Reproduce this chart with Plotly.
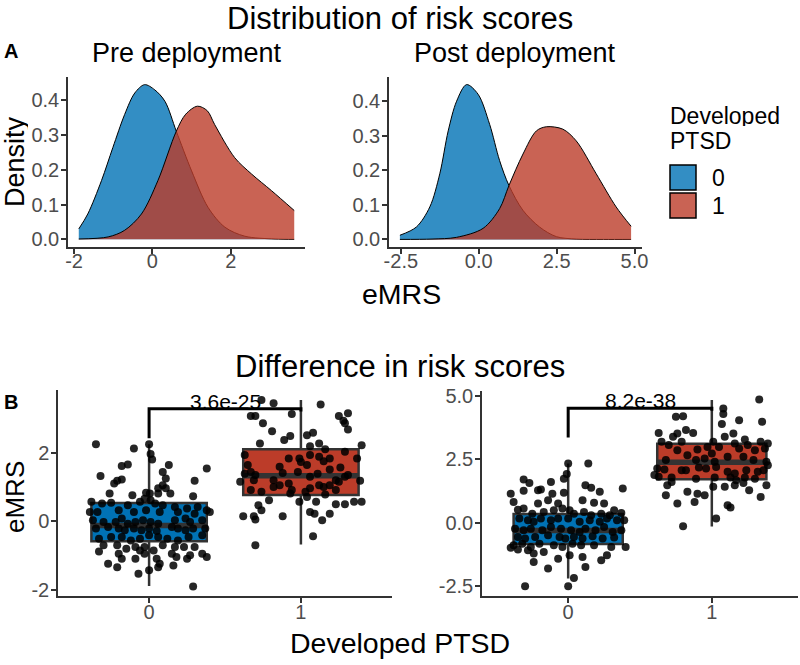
import plotly.graph_objects as go

FONT = "Liberation Sans, Arial, sans-serif"
TICKC = "#4D4D4D"
AXC = "#333333"
BLUE, RED = "#0072B5", "#BC3C29"
BLUE_A, RED_A = "rgba(0,114,181,0.8)", "rgba(188,60,41,0.8)"

groups = ["0", "1"]

# ---------- density curves ----------
pre_x0 = [-1.88, -1.65, -1.30, -1.01, -0.71, -0.45, -0.20, 0.06, 0.32, 0.61, 1.00, 1.42, 1.85, 2.36, 3.13, 3.62]
pre_d0 = [0.030, 0.073, 0.169, 0.264, 0.359, 0.421, 0.445, 0.430, 0.397, 0.311, 0.197, 0.092, 0.035, 0.009, 0.001, 0.0]
pre_x1 = [-1.88, -1.13, -0.71, -0.28, 0.14, 0.61, 0.85, 1.15, 1.40, 1.59, 2.10, 2.53, 3.04, 3.62]
pre_d1 = [0.001, 0.007, 0.026, 0.073, 0.169, 0.311, 0.360, 0.383, 0.370, 0.330, 0.235, 0.188, 0.140, 0.083]

post_x0 = [-2.53, -2.00, -1.57, -1.25, -0.98, -0.71, -0.39, -0.02, 0.35, 0.67, 0.97, 1.42, 1.95, 2.49, 3.13, 4.00, 4.89]
post_d0 = [0.012, 0.036, 0.094, 0.190, 0.314, 0.400, 0.448, 0.420, 0.333, 0.228, 0.156, 0.084, 0.036, 0.008, 0.001, 0.0, 0.0]
post_x1 = [-2.53, -1.50, -0.71, 0.14, 0.67, 0.97, 1.42, 1.85, 2.17, 2.70, 3.13, 3.77, 4.41, 4.89]
post_d1 = [0.0, 0.001, 0.006, 0.032, 0.089, 0.156, 0.247, 0.314, 0.326, 0.319, 0.285, 0.190, 0.094, 0.038]

# ---------- box statistics ----------
pre_q1 = [-0.58, 0.77]; pre_med = [-0.12, 1.33]; pre_q3 = [0.53, 2.10]
pre_lo = [-1.89, -0.68]; pre_hi = [2.25, 3.54]
post_q1 = [-0.84, 1.71]; post_med = [-0.31, 2.38]; post_q3 = [0.34, 3.10]
post_lo = [-2.20, -0.15]; post_hi = [2.33, 4.83]

# ---------- jittered points ----------
pre_v0 = [2.25, 2.12, 2.25, 1.96, 1.80, 1.66, 1.61, 1.64, 1.44, 1.54,
          1.32, 1.22, 1.18, 1.10, 1.25, 1.05, 0.96, 0.96, 1.18, 0.81,
          0.76, 0.83, 0.81, 0.81, 0.81, 0.73, 0.57, 0.52, 0.54, 0.47,
          0.57, 0.66, 0.61, 0.52, 0.47, 0.42, 0.37, 0.42, 0.32, 0.27,
          0.27, 0.32, 0.27, 0.32, 0.27, 0.27, 0.22, 0.27, 0.03, -0.02,
          -0.02, 0.08, -0.07, -0.02, 0.03, -0.02, -0.07, 0.03, 0.08, -0.02,
          0.03, -0.21, -0.17, -0.21, -0.26, -0.21, -0.26, -0.21, -0.28, -0.17,
          -0.21, -0.26, -0.21, -0.21, -0.51, -0.46, -0.46, -0.56, -0.51, -0.41,
          -0.46, -0.51, -0.56, -0.46, -0.41, -0.70, -0.70, -0.80, -0.75, -0.75,
          -0.85, -0.70, -0.75, -0.75, -0.75, -0.88, -0.95, -0.85, -0.95, -0.95,
          -0.99, -0.95, -1.09, -1.09, -1.09, -1.04, -1.09, -1.04, -1.24, -1.34,
          -1.24, -1.29, -1.34, -1.53, -1.43, -1.90]
pre_j0 = [-0.35, -0.10, 0.00, 0.01, 0.02, -0.14, -0.18, 0.13, 0.09, 0.38,
          -0.32, -0.18, -0.21, -0.23, 0.11, 0.09, 0.06, 0.11, 0.30, -0.26,
          -0.11, -0.02, 0.005, 0.06, 0.14, 0.29, -0.38, -0.31, -0.25, -0.14,
          -0.06, -0.03, 0.01, 0.04, 0.09, 0.17, 0.25, 0.32, 0.38, -0.39,
          -0.34, -0.20, -0.10, -0.02, 0.07, 0.19, 0.30, 0.40, -0.37, -0.30,
          -0.22, -0.18, -0.14, -0.09, -0.04, 0.01, 0.06, 0.17, 0.24, 0.27,
          0.35, -0.35, -0.27, -0.20, -0.16, -0.10, -0.05, 0.00, 0.05, 0.15,
          0.19, 0.24, 0.29, 0.37, -0.33, -0.25, -0.18, -0.12, -0.06, 0.00,
          0.06, 0.12, 0.19, 0.26, 0.35, -0.30, -0.21, -0.15, -0.09, -0.03,
          0.03, 0.09, 0.17, 0.23, 0.30, -0.33, -0.20, -0.06, -0.03, 0.15,
          0.27, 0.35, -0.18, -0.09, 0.05, 0.18, 0.25, 0.38, -0.27, -0.21,
          0.07, 0.16, 0.06, -0.07, 0.00, 0.29]

pre_v1 = [3.54, 3.44, 3.41, 3.07, 3.07, 3.13, 3.07, 3.15, 2.93, 2.86,
          2.86, 2.63, 2.68, 2.58, 2.51, 2.49, 2.37, 2.27, 2.22, 2.27,
          2.19, 2.03, 2.10, 1.93, 1.83, 1.83, 1.73, 1.64, 1.88, 1.75,
          1.83, 1.83, 1.64, 1.59, 1.93, 1.51, 1.57, 1.39, 1.44, 1.35,
          1.15, 1.20, 1.20, 1.41, 1.44, 1.30, 1.39, 1.20, 1.30, 1.35,
          1.18, 1.00, 1.05, 1.10, 0.91, 0.96, 1.05, 1.00, 1.05, 1.15,
          0.91, 0.86, 0.81, 0.86, 0.78, 0.91, 0.61, 0.57, 0.57, 0.71,
          0.50, 0.50, 0.57, 0.57, 0.47, 0.32, 0.27, 0.22, 0.22, 0.15,
          0.15, 0.05, 0.15, 0.03, -0.44, -0.70]
pre_j1 = [-0.26, -0.18, 0.13, -0.33, -0.30, -0.06, 0.25, 0.31, 0.28, 0.29,
          -0.25, -0.19, 0.31, 0.08, 0.04, -0.07, -0.11, -0.27, 0.40, 0.12,
          0.06, 0.29, 0.16, -0.37, -0.08, -0.01, 0.00, 0.04, 0.12, 0.15,
          0.19, 0.37, -0.35, -0.14, 0.06, 0.19, 0.26, -0.37, -0.33, -0.30,
          -0.40, -0.31, -0.18, -0.12, -0.02, 0.06, 0.11, 0.23, 0.29, 0.31,
          0.39, -0.18, -0.14, -0.08, -0.06, 0.06, 0.12, 0.15, 0.19, 0.25,
          -0.33, -0.26, -0.07, 0.03, 0.16, 0.23, -0.21, -0.01, 0.10, 0.04,
          0.23, 0.29, 0.35, 0.40, -0.28, -0.26, 0.06, 0.09, 0.19, -0.38,
          -0.31, -0.30, -0.12, 0.14, 0.08, -0.30]

post_v0 = [2.33, 2.33, 1.91, 1.73, 1.70, 1.56, 1.60, 1.47, 1.37, 1.34,
           1.14, 1.25, 1.27, 1.30, 1.17, 1.14, 0.88, 1.21, 0.81, 0.75,
           0.88, 0.75, 0.78, 0.75, 0.49, 0.51, 0.55, 0.35, 0.42, 0.49,
           0.55, 0.49, 0.35, 0.42, 0.29, 0.35, 0.29, 0.38, 0.16, 0.09,
           0.03, 0.16, 0.09, 0.16, 0.16, 0.03, 0.09, 0.03, 0.16, 0.09,
           0.09, -0.24, -0.30, -0.24, -0.30, -0.17, -0.24, -0.30, -0.37, -0.24,
           -0.30, -0.17, -0.37, -0.30, -0.57, -0.63, -0.57, -0.50, -0.57, -0.63,
           -0.57, -0.63, -0.54, -0.63, -0.59, -0.89, -0.83, -0.96, -0.83, -0.89,
           -0.96, -0.83, -0.89, -0.89, -0.96, -0.96, -0.99, -1.06, -1.09, -1.22,
           -1.16, -1.42, -1.29, -1.35, -1.48, -1.55, -1.81, -1.75, -1.29, -2.18,
           -2.51, -2.51]
post_j0 = [0.00, 0.14, -0.01, -0.03, -0.31, -0.27, -0.12, 0.12, 0.16, 0.38,
           -0.40, -0.31, -0.21, -0.19, -0.03, -0.11, 0.10, 0.22, -0.38, -0.21,
           -0.14, -0.07, 0.18, 0.25, 0.32, -0.35, -0.31, -0.25, -0.17, -0.10,
           -0.04, 0.01, 0.04, 0.11, 0.16, 0.23, 0.29, 0.37, -0.34, -0.28,
           -0.24, -0.19, -0.12, -0.07, 0.00, 0.08, 0.15, 0.22, 0.27, 0.34,
           0.39, -0.37, -0.31, -0.26, -0.18, -0.12, -0.05, 0.02, 0.08, 0.12,
           0.19, 0.25, 0.31, 0.37, -0.35, -0.30, -0.23, -0.14, -0.06, -0.02,
           0.04, 0.10, 0.17, 0.24, 0.32, -0.38, -0.32, -0.26, -0.20, -0.10,
           -0.04, 0.03, 0.09, 0.18, 0.30, 0.40, -0.40, -0.35, -0.28, -0.24,
           -0.17, -0.07, 0.01, 0.10, 0.23, -0.24, -0.14, 0.12, 0.27, 0.04,
           -0.30, 0.00]

post_v1 = [4.85, 4.49, 4.27, 4.17, 4.19, 3.88, 4.03, 3.97, 3.64, 3.53,
           3.53, 3.38, 3.51, 3.51, 3.38, 3.18, 3.27, 3.18, 3.11, 3.18,
           3.18, 3.05, 2.88, 2.98, 2.98, 3.11, 2.92, 3.05, 2.85, 2.92,
           2.85, 2.46, 2.65, 2.46, 2.52, 2.72, 2.39, 2.59, 2.59, 2.46,
           2.39, 2.13, 2.09, 2.06, 2.06, 2.17, 2.13, 2.19, 2.00, 1.93,
           2.06, 2.00, 2.06, 1.87, 1.80, 1.77, 1.73, 1.77, 1.77, 1.67,
           1.77, 1.73, 2.26, 1.47, 1.60, 1.41, 1.41, 1.47, 1.56, 1.47,
           1.27, 1.08, 1.14, 1.08, 1.21, 1.01, 0.75, 0.81, 0.68, 0.59,
           0.16, -0.14]
post_j1 = [0.33, 0.08, 0.08, -0.25, -0.20, 0.07, 0.19, 0.35, -0.18, -0.13,
           -0.37, -0.27, -0.24, 0.15, 0.09, 0.01, 0.23, 0.34, 0.39, -0.21,
           -0.35, -0.30, -0.10, -0.03, 0.05, 0.16, 0.19, 0.25, 0.30, 0.37,
           -0.24, -0.32, -0.17, -0.11, -0.05, 0.00, 0.02, 0.11, 0.22, 0.29,
           0.38, -0.38, -0.33, -0.21, -0.18, -0.09, -0.04, 0.03, 0.11, 0.16,
           0.24, 0.32, 0.36, -0.40, -0.37, -0.28, -0.11, 0.02, 0.13, 0.17,
           0.23, 0.30, 0.39, -0.31, -0.28, 0.01, 0.09, 0.16, 0.22, 0.38,
           0.26, -0.32, -0.10, -0.05, -0.17, 0.34, -0.24, -0.12, 0.11, 0.13,
           0.03, -0.20]

# significance brackets and p-values
pre_bracket = [2.42, 3.28, 3.28, 3.20]
post_bracket = [3.35, 4.50, 4.50, 4.40]
p_labels = ["3.6e-25", "8.2e-38"]

fig = go.Figure()

# ---------- density panels ----------
def add_density(xs, ds, fillc, ax):
    fig.add_trace(go.Scatter(x=xs, y=ds, mode="lines", fill="tozeroy", fillcolor=fillc,
                             line=dict(color="black", width=1, shape="spline", smoothing=0.9),
                             xaxis="x" + ax, yaxis="y" + ax, showlegend=False, hoverinfo="skip"))

add_density(pre_x0, pre_d0, BLUE_A, "")
add_density(pre_x1, pre_d1, RED_A, "")
add_density(post_x0, post_d0, BLUE_A, "2")
add_density(post_x1, post_d1, RED_A, "2")

# ---------- box panels ----------
BW = 0.76
def add_box_panel(ax, q1, med, q3, lo, hi, vals, jits, bracket, plab):
    colors = [BLUE, RED]
    for g in range(2):
        fig.add_trace(go.Box(x=[g], q1=[q1[g]], median=[med[g]], q3=[q3[g]],
                             lowerfence=[lo[g]], upperfence=[hi[g]], width=BW,
                             fillcolor=colors[g], line=dict(color=AXC, width=2.5),
                             whiskerwidth=0, boxpoints=False, xaxis="x" + ax, yaxis="y" + ax,
                             showlegend=False, hoverinfo="skip"))
        fig.add_trace(go.Scatter(x=[g - BW / 2, g + BW / 2], y=[med[g], med[g]], mode="lines",
                                 line=dict(color=AXC, width=5.5), xaxis="x" + ax, yaxis="y" + ax,
                                 showlegend=False, hoverinfo="skip"))
    for g in range(2):
        fig.add_trace(go.Scatter(x=[g + j for j in jits[g]], y=vals[g], mode="markers",
                                 marker=dict(color="rgba(0,0,0,0.85)", size=8, line=dict(width=0)),
                                 xaxis="x" + ax, yaxis="y" + ax, showlegend=False, hoverinfo="skip"))
    fig.add_trace(go.Scatter(x=[0, 0, 1, 1], y=bracket, mode="lines",
                             line=dict(color="black", width=3), xaxis="x" + ax, yaxis="y" + ax,
                             showlegend=False, hoverinfo="skip"))
    fig.add_annotation(x=0.5, y=bracket[1], xref="x" + ax, yref="y" + ax, text=plab,
                       showarrow=False, yanchor="bottom", yshift=-6,
                       font=dict(family=FONT, size=21, color="black"))

add_box_panel("3", pre_q1, pre_med, pre_q3, pre_lo, pre_hi, [pre_v0, pre_v1], [pre_j0, pre_j1],
              pre_bracket, p_labels[0])
add_box_panel("4", post_q1, post_med, post_q3, post_lo, post_hi, [post_v0, post_v1], [post_j0, post_j1],
              post_bracket, p_labels[1])

W, H = 800, 665
def dx(a, b):
    return [a / W, b / W]
def dy(top, bottom):
    return [1 - bottom / H, 1 - top / H]

def axis(domain, rng, tickvals, ticktext, anchor, standoff):
    return dict(domain=domain, range=rng, tickvals=tickvals, ticktext=ticktext, anchor=anchor,
                showline=True, linecolor=AXC, linewidth=1.5, ticks="outside", ticklen=5,
                tickwidth=1.5, tickcolor=AXC, showgrid=False, zeroline=False, automargin=False,
                ticklabelstandoff=standoff,
                tickfont=dict(family=FONT, size=20, color=TICKC), fixedrange=True)

YT = [0, 0.1, 0.2, 0.3, 0.4]
YTL = ["0.0", "0.1", "0.2", "0.3", "0.4"]
fig.update_layout(
    template="none",
    width=W, height=H, margin=dict(l=0, r=0, t=0, b=0, pad=0), autosize=False,
    font=dict(family=FONT),
    paper_bgcolor="white", plot_bgcolor="white", showlegend=False,
    xaxis=axis(dx(68, 305), [-2.155, 3.895], [-2, 0, 2], ["-2", "0", "2"], "y", -10),
    yaxis=axis(dy(77, 247), [-0.022, 0.467], YT, YTL, "x", -2),
    xaxis2=axis(dx(389, 642), [-2.88, 5.24], [-2.5, 0, 2.5, 5], ["-2.5", "0.0", "2.5", "5.0"], "y2", -10),
    yaxis2=axis(dy(77, 247), [-0.022, 0.470], YT, YTL, "x2", -2),
    xaxis3=axis(dx(58, 392), [-0.6, 1.6], [0, 1], groups, "y3", -8),
    yaxis3=axis(dy(390, 596), [-2.18, 3.83], [-2, 0, 2], ["-2", "0", "2"], "x3", -2),
    xaxis4=axis(dx(482, 798), [-0.6, 1.6], [0, 1], groups, "y4", -8),
    yaxis4=axis(dy(391, 596), [-2.89, 5.18], [-2.5, 0, 2.5, 5], ["-2.5", "0.0", "2.5", "5.0"], "x4", -2),
)

def txt(x, y, s, size, color="black", bold=False, angle=0, xanchor="center", yanchor="middle", height=None):
    if bold:
        s = "<b>" + s + "</b>"
    kw = {}
    if height is not None:
        kw["height"] = height
    fig.add_annotation(x=x / W, y=1 - y / H, xref="paper", yref="paper", text=s, showarrow=False,
                       textangle=angle, xanchor=xanchor, yanchor=yanchor,
                       font=dict(family=FONT, size=size, color=color), **kw)

txt(400, 18, "Distribution of risk scores", 31)
txt(187, 53, "Pre deployment", 27)
txt(515, 53, "Post deployment", 27)
txt(11, 51, "A", 20, bold=True)
txt(15, 162, "Density", 27, angle=-90, height=26)
txt(401, 294, "eMRS", 28.5)
txt(400, 366, "Difference in risk scores", 31)
txt(11, 402, "B", 20, bold=True)
txt(15, 497, "eMRS", 26, angle=-90, height=26)
txt(400, 643, "Developed PTSD", 28.5)

# legend (manual)
txt(668, 116, "Developed", 23, xanchor="left", height=20)
txt(668, 141, "PTSD", 23, xanchor="left", height=20)
legend_fill = [BLUE_A, RED_A]
for i, g in enumerate(groups):
    top = 165 + i * 28
    fig.add_shape(type="rect", xref="paper", yref="paper", x0=670 / W, x1=696 / W,
                  y0=1 - (top + 25) / H, y1=1 - top / H, fillcolor=legend_fill[i],
                  line=dict(color="black", width=1.5))
    txt(710, top + 13, g, 23, xanchor="left")

fig.write_html("out.html", config={"displayModeBar": False},
               post_script="document.body.style.margin='0';document.body.style.overflow='hidden';")
